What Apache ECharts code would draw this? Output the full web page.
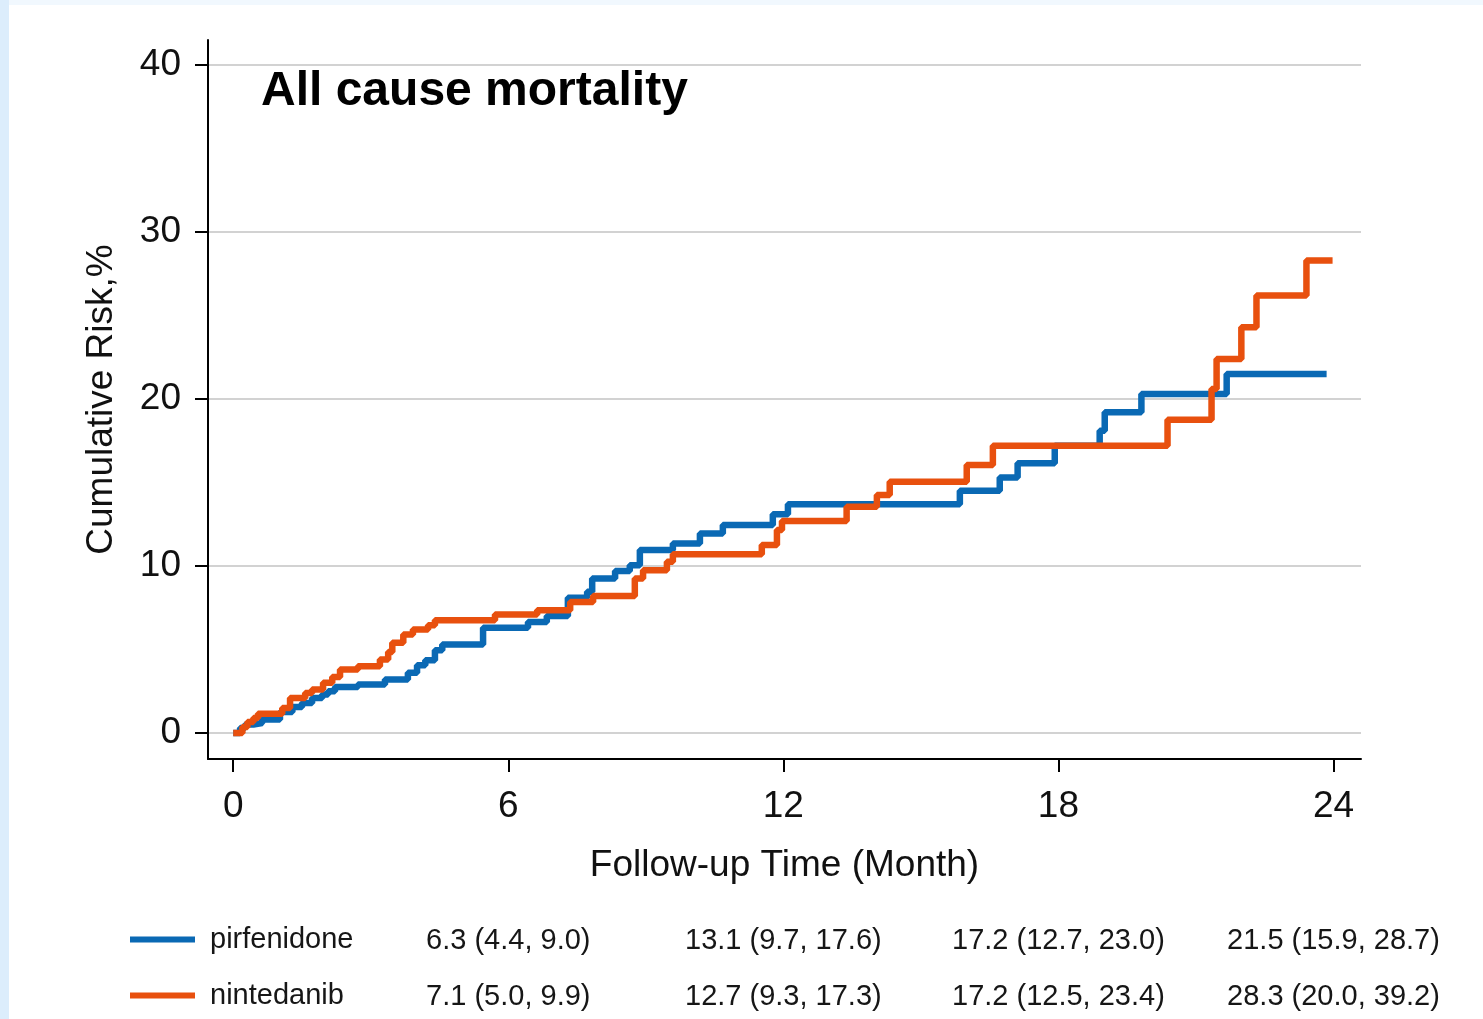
<!DOCTYPE html>
<html>
<head>
<meta charset="utf-8">
<title>All cause mortality</title>
<script src="https://cdn.jsdelivr.net/npm/echarts@6/dist/echarts.min.js"></script>
<style>
  html, body { margin: 0; padding: 0; background: #ffffff; }
  #edgeLeft { position: absolute; left: 0; top: 0; width: 9px; height: 1019px; background: #dcedfc; }
  #edgeTop { position: absolute; left: 0; top: 0; width: 1483px; height: 5px; background: #f1f8fe; }
  #chart { position: absolute; left: 0; top: 0; width: 1483px; height: 1019px; }
</style>
</head>
<body>
<div id="edgeTop"></div>
<div id="edgeLeft"></div>
<div id="chart"></div>
<script>
// Kaplan-Meier style cumulative risk (%), step changes at each time (months)
const pirfTime = [0, 0.15, 0.26, 0.44, 0.63, 1.02, 1.29, 1.50, 1.72, 1.94, 2.07, 2.22, 2.72, 3.31, 3.81, 4.01, 4.19, 4.40, 4.56, 5.45, 6.43, 6.84, 7.30, 7.72, 7.83, 8.33, 8.65, 8.87, 9.59, 10.18, 10.68, 11.77, 12.10, 15.85, 16.72, 17.11, 17.92, 18.90, 19.01, 19.81, 21.67, 23.85];
const pirfRisk = [0, 0.3, 0.5, 0.6, 0.8, 1.25, 1.55, 1.8, 2.1, 2.3, 2.5, 2.75, 2.9, 3.2, 3.6, 4.05, 4.35, 4.95, 5.3, 6.3, 6.65, 7.0, 8.1, 8.45, 9.25, 9.7, 10.05, 10.95, 11.35, 11.95, 12.45, 13.1, 13.7, 14.5, 15.3, 16.15, 17.2, 18.1, 19.2, 20.3, 21.5, 21.5];

const ninTime = [0, 0.2, 0.31, 0.44, 0.54, 1.07, 1.24, 1.57, 1.72, 1.96, 2.16, 2.33, 2.72, 3.20, 3.38, 3.47, 3.71, 3.92, 4.25, 4.40, 5.71, 6.63, 7.35, 7.85, 8.76, 8.94, 9.46, 9.59, 11.53, 11.86, 11.97, 13.38, 14.04, 14.32, 16.0, 16.57, 20.38, 21.34, 21.45, 21.99, 22.32, 23.41, 23.98];
const ninRisk = [0, 0.35, 0.65, 0.9, 1.15, 1.5, 2.1, 2.4, 2.6, 3.0, 3.35, 3.8, 4.0, 4.4, 4.85, 5.4, 5.9, 6.2, 6.45, 6.75, 7.1, 7.35, 7.85, 8.2, 9.25, 9.75, 10.25, 10.7, 11.25, 12.15, 12.7, 13.55, 14.25, 15.05, 16.05, 17.2, 18.75, 20.6, 22.4, 24.3, 26.2, 28.3, 28.3];

// Axis ticks
const xTicks = [0, 6, 12, 18, 24];
const yTicks = [0, 10, 20, 30, 40];

// Risk estimates with 95% CI at the landmark months
const landmarkMonths = [6, 12, 18, 24];
const pirfEst = [6.3, 13.1, 17.2, 21.5];
const pirfLo = [4.4, 9.7, 12.7, 15.9];
const pirfHi = [9.0, 17.6, 23.0, 28.7];
const ninEst = [7.1, 12.7, 17.2, 28.3];
const ninLo = [5.0, 9.3, 12.5, 20.0];
const ninHi = [9.9, 17.3, 23.4, 39.2];

const names = ['pirfenidone', 'nintedanib'];
const colors = ['#0a69b4', '#e8500e'];

const FONT = '"Liberation Sans", Arial, Helvetica, sans-serif';

function zip(a, b) { return a.map((v, i) => [v, b[i]]); }
function ciText(est, lo, hi, v) {
  const i = landmarkMonths.indexOf(v);
  if (i < 0) return '';
  return est[i].toFixed(1) + ' (' + lo[i].toFixed(1) + ', ' + hi[i].toFixed(1) + ')';
}

const X_MIN = -0.55, X_MAX = 24.6;

function tableAxis(offset, est, lo, hi) {
  return {
    type: 'value', gridIndex: 0, position: 'bottom', offset: offset,
    min: X_MIN, max: X_MAX,
    axisLine: { show: false }, axisTick: { show: false, customValues: landmarkMonths },
    splitLine: { show: false },
    axisLabel: {
      customValues: landmarkMonths, margin: 0,
      fontFamily: FONT, fontSize: 29, color: '#161616',
      formatter: v => ciText(est, lo, hi, v)
    }
  };
}

const chart = echarts.init(document.getElementById('chart'), null, { renderer: 'canvas' });
chart.setOption({
  animation: false,
  backgroundColor: 'transparent',
  title: {
    text: 'All cause mortality', left: 256, top: 63,
    textStyle: { fontFamily: FONT, fontSize: 48, fontWeight: 'bold', color: '#000' }
  },
  legend: {
    data: names, orient: 'vertical', left: 130, top: 925,
    icon: 'rect', itemWidth: 65, itemHeight: 6, itemGap: 27, padding: 0,
    textStyle: { fontFamily: FONT, fontSize: 29, color: '#161616', lineHeight: 29, padding: [0, 0, 0, 10] }
  },
  grid: { left: 208, right: 122, top: 40, bottom: 260 },
  xAxis: [
    {
      type: 'value', min: X_MIN, max: X_MAX,
      name: 'Follow-up Time (Month)', nameLocation: 'middle', nameGap: 88,
      nameTextStyle: { fontFamily: FONT, fontSize: 37, color: '#111' },
      axisLine: { show: true, onZero: false, lineStyle: { color: '#000', width: 2 } },
      axisTick: { show: true, length: 13, customValues: xTicks, lineStyle: { color: '#000', width: 2 } },
      axisLabel: { customValues: xTicks, margin: 29, fontFamily: FONT, fontSize: 37, color: '#111' },
      splitLine: { show: false }
    },
    tableAxis(167, pirfEst, pirfLo, pirfHi),
    tableAxis(223, ninEst, ninLo, ninHi)
  ],
  yAxis: {
    type: 'value', min: -1.56, max: 41.5,
    name: 'Cumulative Risk,%', nameLocation: 'middle', nameGap: 88,
    nameTextStyle: { fontFamily: FONT, fontSize: 37, color: '#111' },
    axisLine: { show: true, onZero: false, lineStyle: { color: '#000', width: 2 } },
    axisTick: { show: true, length: 13, customValues: yTicks, lineStyle: { color: '#000', width: 2 } },
    axisLabel: { customValues: yTicks, margin: 27, fontFamily: FONT, fontSize: 37, color: '#111' },
    splitLine: { show: true, lineStyle: { color: '#d2d2d2', width: 2 } }
  },
  series: [
    {
      name: names[0], type: 'line', step: 'end', xAxisIndex: 0,
      data: zip(pirfTime, pirfRisk), showSymbol: false, symbol: 'none',
      lineStyle: { color: colors[0], width: 6.5 }, itemStyle: { color: colors[0] }, z: 3
    },
    {
      name: names[1], type: 'line', step: 'end', xAxisIndex: 0,
      data: zip(ninTime, ninRisk), showSymbol: false, symbol: 'none',
      lineStyle: { color: colors[1], width: 6.5 }, itemStyle: { color: colors[1] }, z: 4
    }
  ]
});
</script>
</body>
</html>
